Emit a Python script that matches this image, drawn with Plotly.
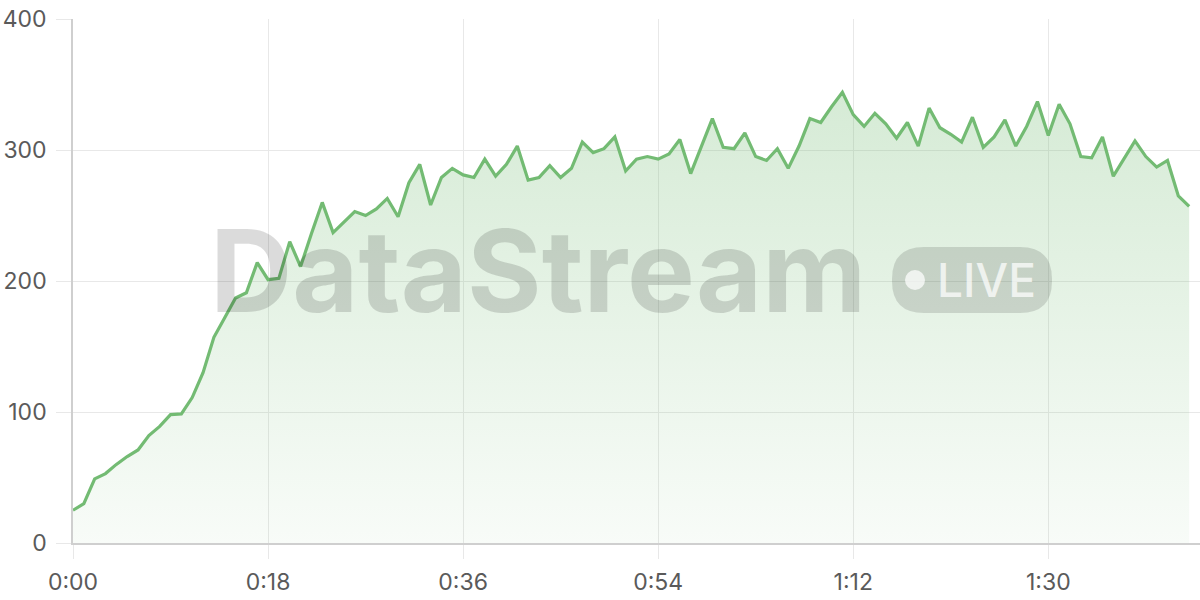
import plotly.graph_objects as go

# ---- data ----
seconds = list(range(104))
values = [25, 30, 49, 53, 60, 66, 71, 82, 89, 98, 98.5, 111, 130, 157, 172, 187, 191, 214, 201, 202,
          230, 211, 236, 260, 237, 245, 253, 250, 255, 263, 249, 275, 289, 258, 279, 286, 281, 279, 293, 280,
          289, 303, 277, 279, 288, 279, 286, 306, 298, 301, 310, 284, 293, 295, 293, 297, 308, 282, 303, 324,
          302, 301, 313, 295, 292, 301, 286, 303, 324, 321, 333, 344, 327, 318, 328, 320, 309, 321, 303, 332,
          317, 312, 306, 325, 302, 310, 323, 303, 318, 337, 311, 335, 320, 295, 294, 310, 280, 294, 307, 295,
          287, 292, 265, 257]
x_tick_vals = [0, 18, 36, 54, 72, 90]
x_tick_text = ["0:00", "0:18", "0:36", "0:54", "1:12", "1:30"]
y_tick_vals = [0, 100, 200, 300, 400]
watermark_text = "DataStream"
badge_text = "LIVE"

W, H = 1200, 600
ML, MR, MT, MB = 73, 0, 19, 57
PW, PH = W - ML - MR, H - MT - MB

def px(x):
    return (x - ML) / PW

def py(y):
    return (H - MB - y) / PH

GREEN = "rgb(115,187,115)"
TICK_FONT = dict(family="Inter, Roboto, sans-serif", size=23, color="#5a5a5a")

fig = go.Figure()
fig.add_trace(go.Scatter(
    x=seconds, y=values, mode="lines",
    line=dict(color=GREEN, width=3.2),
    fill="tozeroy",
    fillgradient=dict(type="vertical",
                      colorscale=[[0, "rgba(115,187,115,0.05)"], [1, "rgba(115,187,115,0.30)"]],
                      start=0, stop=350),
    hoverinfo="skip", showlegend=False,
))

# rounded pill for LIVE badge
x0, x1, y0, y1, r = 892, 1052, 247, 313, 32
def pt(x, y):
    return f"{px(x):.5f},{py(y):.5f}"
path = (f"M {pt(x0 + r, y0)} L {pt(x1 - r, y0)} "
        f"Q {pt(x1, y0)} {pt(x1, y0 + r)} L {pt(x1, y1 - r)} "
        f"Q {pt(x1, y1)} {pt(x1 - r, y1)} L {pt(x0 + r, y1)} "
        f"Q {pt(x0, y1)} {pt(x0, y1 - r)} L {pt(x0, y0 + r)} "
        f"Q {pt(x0, y0)} {pt(x0 + r, y0)} Z")
fig.add_shape(type="path", path=path, xref="paper", yref="paper",
              fillcolor="rgba(0,0,0,0.13)", line=dict(width=0), layer="above")
# dot
cx, cy, cr = 915, 280, 10
fig.add_shape(type="circle", xref="paper", yref="paper",
              x0=px(cx - cr), x1=px(cx + cr), y0=py(cy + cr), y1=py(cy - cr),
              fillcolor="rgba(255,255,255,0.72)", line=dict(width=0), layer="above")

fig.add_annotation(text=watermark_text, xref="paper", yref="paper",
                   x=px(208), y=py(270), xanchor="left", yanchor="middle", showarrow=False,
                   font=dict(family="Inter, Roboto, sans-serif", size=114, weight=700,
                             color="rgba(0,0,0,0.14)"))
fig.add_annotation(text=badge_text, xref="paper", yref="paper",
                   x=px(935), y=py(280), xanchor="left", yanchor="middle", showarrow=False,
                   font=dict(family="Inter, Roboto, sans-serif", size=46, weight=500,
                             color="rgba(255,255,255,0.72)"))

fig.update_layout(
    width=W, height=H,
    margin=dict(l=ML, r=MR, t=MT, b=MB),
    paper_bgcolor="white", plot_bgcolor="white",
    xaxis=dict(range=[0, 104], tickvals=x_tick_vals, ticktext=x_tick_text,
               showgrid=True, gridcolor="#e8e8e8", gridwidth=1,
               showline=True, linecolor="#cfcfcf", linewidth=1.5,
               ticks="outside", ticklen=14, tickcolor="#e8e8e8",
               ticklabelstandoff=4,
               tickfont=TICK_FONT, zeroline=False, fixedrange=True, automargin=False),
    yaxis=dict(range=[0, 400], tickvals=y_tick_vals,
               showgrid=True, gridcolor="#e8e8e8", gridwidth=1,
               showline=True, linecolor="#cfcfcf", linewidth=1.5,
               ticks="outside", ticklen=15, tickcolor="#e8e8e8",
               ticklabelstandoff=5,
               tickfont=TICK_FONT, zeroline=False, fixedrange=True, automargin=False),
)

fig.write_html("out.html", config={"displayModeBar": False},
               post_script="document.body.style.margin='0';document.body.style.overflow='hidden';")
